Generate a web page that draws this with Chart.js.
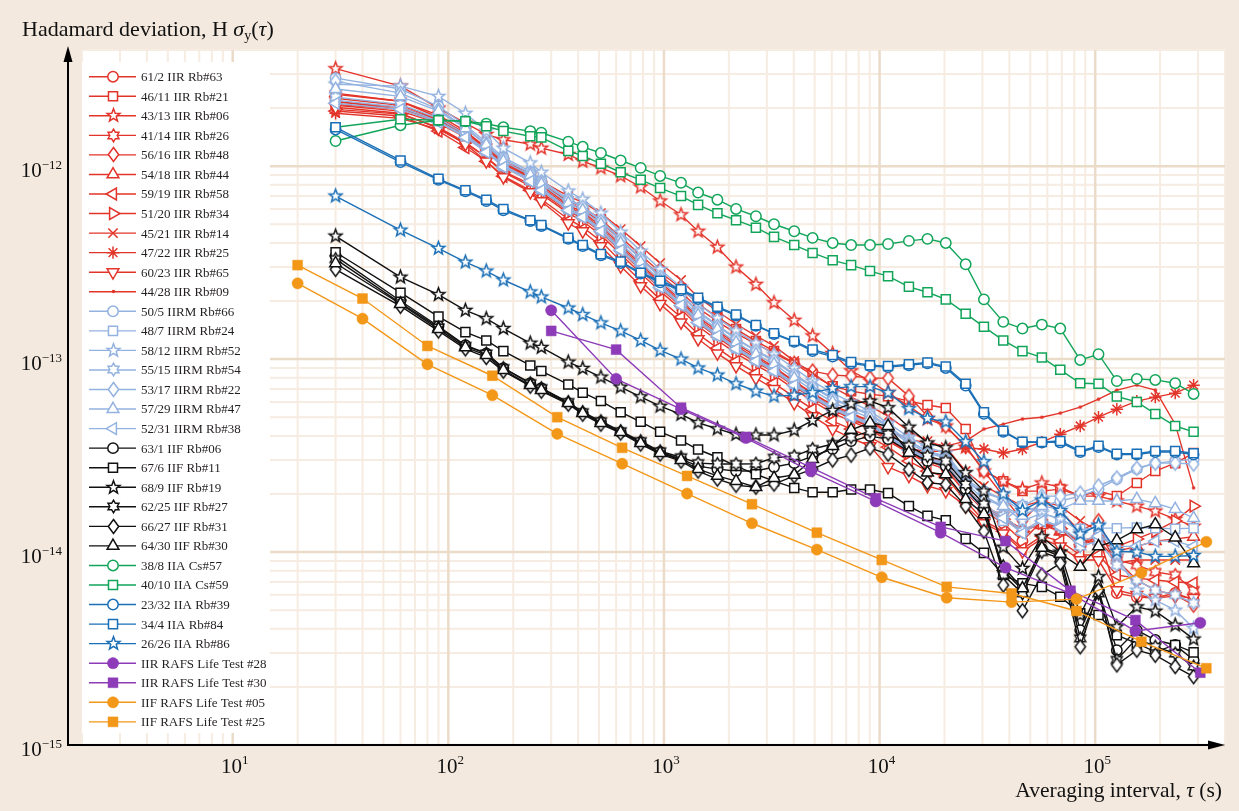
<!DOCTYPE html>
<html>
<head>
<meta charset="utf-8">
<title>Hadamard deviation of GPS clocks</title>
<script src="https://cdn.jsdelivr.net/npm/chart.js"></script>
<style>
  html, body { margin: 0; padding: 0; background: #f3e9de; }
  canvas { display: block; }
</style>
</head>
<body>
<canvas id="c" width="1239" height="811"></canvas>
<script>
// ---- averaging intervals (s) ----
const tauMain = [30, 60, 90, 120, 150, 180, 240, 270, 360, 420, 510, 630, 780, 960, 1200, 1440, 1770, 2160, 2670, 3240, 4020, 4890, 6060, 7380, 9030, 10950, 13680, 16680, 20280, 25080, 30480, 37470, 45990, 56580, 68880, 85230, 103620, 126000, 156000, 190000, 235000, 286000];
const tauRafsIIR = [300, 600, 1200, 2400, 4800, 9600, 19200, 38400, 76800, 153600, 307200];
const tauRafsIIF = [20, 40, 80, 160, 320, 640, 1280, 2560, 5120, 10240, 20480, 40960, 81920, 163840, 327680];

// ---- series labels ----
const seriesNames = [
  '61/2 IIR Rb#63', '46/11 IIR Rb#21', '43/13 IIR Rb#06', '41/14 IIR Rb#26', '56/16 IIR Rb#48', '54/18 IIR Rb#44',
  '59/19 IIR Rb#58', '51/20 IIR Rb#34', '45/21 IIR Rb#14', '47/22 IIR Rb#25', '60/23 IIR Rb#65', '44/28 IIR Rb#09',
  '50/5 IIRM Rb#66', '48/7 IIRM Rb#24', '58/12 IIRM Rb#52', '55/15 IIRM Rb#54', '53/17 IIRM Rb#22', '57/29 IIRM Rb#47', '52/31 IIRM Rb#38',
  '63/1 IIF Rb#06', '67/6 IIF Rb#11', '68/9 IIF Rb#19', '62/25 IIF Rb#27', '66/27 IIF Rb#31', '64/30 IIF Rb#30',
  '38/8 IIA Cs#57', '40/10 IIA Cs#59', '23/32 IIA Rb#39', '34/4 IIA Rb#84', '26/26 IIA Rb#86',
  'IIR RAFS Life Test #28', 'IIR RAFS Life Test #30', 'IIF RAFS Life Test #05', 'IIF RAFS Life Test #25'
];

// ---- Hadamard deviation values ----
// Block IIR
const iir_61_2 = [2.17e-12,1.97e-12,1.71e-12,1.43e-12,1.2e-12,1.0e-12,8.36e-13,7.5e-13,5.99e-13,5.44e-13,4.6e-13,3.71e-13,2.92e-13,2.36e-13,1.9e-13,1.57e-13,1.33e-13,1.14e-13,9.9e-14,8.77e-14,7.43e-14,6.35e-14,5.5e-14,4.89e-14,4.44e-14,3.85e-14,3.26e-14,2.96e-14,2.76e-14,2.07e-14,1.63e-14,1.41e-14,1.14e-14,1.45e-14,1.32e-14,1.07e-14,1.21e-14,6.13e-15,5.84e-15,5.78e-15,6.13e-15,5.64e-15];
const iir_46_11 = [2.07e-12,1.93e-12,1.67e-12,1.41e-12,1.2e-12,1.02e-12,8.8e-13,8.1e-13,6.58e-13,6.13e-13,5.31e-13,4.28e-13,3.46e-13,2.82e-13,2.33e-13,1.93e-13,1.65e-13,1.43e-13,1.24e-13,1.1e-13,9.5e-14,8.26e-14,7.24e-14,6.82e-14,6.58e-14,6.43e-14,6.06e-14,5.78e-14,5.58e-14,4.34e-14,2.63e-14,2.33e-14,2.07e-14,2.07e-14,2.12e-14,1.95e-14,2.07e-14,1.95e-14,2.28e-14,2.63e-14,2.89e-14,3.26e-14];
const iir_43_13 = [3.2e-12,2.6e-12,2.0e-12,1.67e-12,1.46e-12,1.37e-12,1.3e-12,1.24e-12,1.15e-12,1.06e-12,9.8e-13,8.9e-13,7.8e-13,6.6e-13,5.6e-13,4.6e-13,3.8e-13,3.0e-13,2.44e-13,1.96e-13,1.59e-13,1.32e-13,1.07e-13,8.7e-14,7.7e-14,6.7e-14,5.7e-14,4.9e-14,4.5e-14,3.5e-14,2.63e-14,2.33e-14,2.12e-14,2.28e-14,2.17e-14,1.95e-14,1.95e-14,1.84e-14,1.73e-14,1.63e-14,1.48e-14,1.36e-14];
const iir_41_14 = [2.36e-12,2.17e-12,1.84e-12,1.52e-12,1.25e-12,1.05e-12,8.87e-13,7.97e-13,6.28e-13,5.78e-13,4.89e-13,3.9e-13,3.1e-13,2.51e-13,2.02e-13,1.65e-13,1.4e-13,1.2e-13,1.04e-13,9.09e-14,7.69e-14,6.66e-14,5.78e-14,5.25e-14,4.77e-14,4.14e-14,3.5e-14,3.1e-14,2.89e-14,2.12e-14,1.73e-14,1.54e-14,1.28e-14,1.41e-14,1.28e-14,1.11e-14,1.14e-14,9.09e-15,8.56e-15,7.88e-15,7.6e-15,6.35e-15];
const iir_56_16 = [2.25e-12,2.07e-12,1.75e-12,1.46e-12,1.22e-12,1.04e-12,8.87e-13,8.07e-13,6.43e-13,5.99e-13,5.12e-13,4.14e-13,3.33e-13,2.72e-13,2.22e-13,1.84e-13,1.57e-13,1.36e-13,1.2e-13,1.07e-13,9.5e-14,8.67e-14,8.26e-14,8.17e-14,7.97e-14,7.97e-14,6.43e-14,5.06e-14,4.5e-14,3.54e-14,2.63e-14,1.95e-14,1.45e-14,1.84e-14,1.63e-14,1.28e-14,1.45e-14,9.09e-15,7.16e-15,6.35e-15,5.99e-15,5.31e-15];
const iir_54_18 = [2.39e-12,2.17e-12,1.79e-12,1.48e-12,1.22e-12,1.02e-12,8.67e-13,7.8e-13,6.13e-13,5.64e-13,4.77e-13,3.8e-13,3.03e-13,2.45e-13,1.97e-13,1.61e-13,1.36e-13,1.17e-13,1.01e-13,8.98e-14,7.6e-14,6.58e-14,5.64e-14,5.12e-14,4.66e-14,4.04e-14,3.42e-14,3.03e-14,2.86e-14,2.07e-14,1.71e-14,1.5e-14,1.32e-14,1.38e-14,1.28e-14,1.14e-14,1.17e-14,1.01e-14,1.07e-14,1.14e-14,1.17e-14,1.2e-14];
const iir_59_19 = [1.93e-12,1.82e-12,1.52e-12,1.25e-12,1.06e-12,8.87e-13,7.5e-13,6.74e-13,5.31e-13,4.83e-13,4.08e-13,3.22e-13,2.54e-13,2.04e-13,1.65e-13,1.35e-13,1.14e-13,9.77e-14,8.46e-14,7.5e-14,6.35e-14,5.5e-14,4.77e-14,4.34e-14,3.94e-14,3.5e-14,2.96e-14,2.63e-14,2.45e-14,1.84e-14,1.45e-14,1.28e-14,1.04e-14,1.21e-14,1.14e-14,9.65e-15,9.65e-15,7.6e-15,7.33e-15,7.16e-15,6.99e-15,6.91e-15];
const iir_51_20 = [1.97e-12,1.86e-12,1.59e-12,1.33e-12,1.11e-12,9.3e-13,7.88e-13,7.16e-13,5.71e-13,5.18e-13,4.39e-13,3.5e-13,2.79e-13,2.25e-13,1.82e-13,1.48e-13,1.25e-13,1.07e-13,9.3e-14,8.26e-14,6.99e-14,6.06e-14,5.25e-14,4.77e-14,4.34e-14,3.76e-14,3.26e-14,2.89e-14,2.69e-14,2.02e-14,1.67e-14,1.48e-14,1.28e-14,1.41e-14,1.32e-14,1.14e-14,1.21e-14,1.07e-14,1.17e-14,1.28e-14,1.45e-14,1.73e-14];
const iir_45_21 = [2.09e-12,1.97e-12,1.75e-12,1.48e-12,1.25e-12,1.06e-12,9.18e-13,8.36e-13,6.99e-13,6.5e-13,5.71e-13,4.72e-13,3.85e-13,3.14e-13,2.57e-13,2.09e-13,1.77e-13,1.52e-13,1.32e-13,1.17e-13,9.77e-14,8.46e-14,7.16e-14,6.35e-14,5.7e-14,5.06e-14,4.23e-14,3.76e-14,3.5e-14,2.63e-14,2.2e-14,1.95e-14,1.73e-14,1.84e-14,1.73e-14,1.45e-14,1.28e-14,8.77e-15,9.09e-15,9.09e-15,9.09e-15,9.09e-15];
const iir_47_22 = [1.88e-12,1.77e-12,1.55e-12,1.32e-12,1.11e-12,9.4e-13,8.07e-13,7.33e-13,5.84e-13,5.37e-13,4.55e-13,3.63e-13,2.89e-13,2.33e-13,1.88e-13,1.54e-13,1.3e-13,1.11e-13,9.65e-14,8.56e-14,7.24e-14,6.28e-14,5.44e-14,4.95e-14,4.5e-14,3.9e-14,3.42e-14,3.33e-14,3.33e-14,3.46e-14,3.42e-14,3.26e-14,3.42e-14,3.71e-14,4.08e-14,4.5e-14,5.0e-14,5.5e-14,6.06e-14,6.35e-14,6.66e-14,7.33e-14];
const iir_60_23 = [2.02e-12,1.88e-12,1.57e-12,1.3e-12,1.06e-12,8.77e-13,7.33e-13,6.58e-13,5.06e-13,4.6e-13,3.85e-13,3.03e-13,2.39e-13,1.93e-13,1.55e-13,1.27e-13,1.07e-13,9.2e-14,7.97e-14,7.0e-14,5.91e-14,5.06e-14,4.34e-14,3.9e-14,3.54e-14,2.76e-14,2.48e-14,2.2e-14,2.07e-14,1.73e-14,1.41e-14,1.25e-14,1.01e-14,1.17e-14,1.07e-14,9.09e-15,9.09e-15,6.35e-15,5.99e-15,5.78e-15,5.91e-15,5.78e-15];
const iir_44_28 = [2.15e-12,2.02e-12,1.73e-12,1.45e-12,1.21e-12,1.01e-12,8.56e-13,7.69e-13,6.06e-13,5.58e-13,4.72e-13,3.76e-13,2.99e-13,2.42e-13,1.95e-13,1.59e-13,1.35e-13,1.15e-13,1.0e-13,8.87e-14,7.5e-14,6.5e-14,5.64e-14,5.18e-14,4.77e-14,4.23e-14,3.85e-14,3.67e-14,3.54e-14,3.76e-14,4.34e-14,4.6e-14,4.89e-14,5.0e-14,5.25e-14,5.64e-14,6.2e-14,6.91e-14,7.33e-14,6.91e-14,4.6e-14,2.15e-14];
// Block IIR-M
const iirm_50_5 = [2.86e-12,2.51e-12,2.04e-12,1.63e-12,1.33e-12,1.11e-12,9.4e-13,8.46e-13,6.74e-13,6.2e-13,5.25e-13,4.18e-13,3.33e-13,2.69e-13,2.17e-13,1.77e-13,1.5e-13,1.28e-13,1.11e-13,9.9e-14,8.36e-14,7.24e-14,6.28e-14,5.7e-14,5.18e-14,4.5e-14,3.76e-14,3.33e-14,3.14e-14,2.39e-14,2.07e-14,1.88e-14,1.63e-14,1.73e-14,1.84e-14,1.95e-14,2.12e-14,2.39e-14,2.69e-14,2.89e-14,2.96e-14,3.03e-14];
const iirm_48_7 = [2.2e-12,2.02e-12,1.71e-12,1.43e-12,1.2e-12,1.0e-12,8.46e-13,7.6e-13,5.99e-13,5.5e-13,4.66e-13,3.71e-13,2.96e-13,2.39e-13,1.93e-13,1.57e-13,1.33e-13,1.14e-13,9.9e-14,8.77e-14,7.43e-14,6.43e-14,5.58e-14,5.06e-14,4.6e-14,3.99e-14,3.42e-14,3.03e-14,2.86e-14,2.07e-14,1.67e-14,1.45e-14,1.73e-14,1.59e-14,1.48e-14,1.32e-14,1.33e-14,1.33e-14,1.34e-14,1.33e-14,1.32e-14,1.33e-14];
const iirm_58_12 = [2.66e-12,2.6e-12,2.3e-12,1.88e-12,1.52e-12,1.24e-12,1.04e-12,9.3e-13,7.43e-13,6.74e-13,5.71e-13,4.55e-13,3.63e-13,2.92e-13,2.36e-13,1.93e-13,1.63e-13,1.4e-13,1.21e-13,1.06e-13,8.98e-14,7.69e-14,6.66e-14,5.99e-14,5.37e-14,4.66e-14,3.94e-14,3.5e-14,3.26e-14,2.39e-14,1.95e-14,1.73e-14,1.45e-14,1.59e-14,1.48e-14,1.28e-14,1.36e-14,9.65e-15,6.35e-15,5.64e-15,5.0e-15,4.03e-15];
const iirm_55_15 = [2.28e-12,2.09e-12,1.77e-12,1.46e-12,1.21e-12,1.01e-12,8.56e-13,7.69e-13,6.06e-13,5.58e-13,4.72e-13,3.76e-13,2.99e-13,2.42e-13,1.95e-13,1.59e-13,1.35e-13,1.15e-13,1.0e-13,8.87e-14,7.5e-14,6.5e-14,5.64e-14,5.12e-14,4.66e-14,4.04e-14,3.46e-14,3.07e-14,2.89e-14,2.12e-14,1.73e-14,1.54e-14,1.28e-14,1.48e-14,1.35e-14,1.07e-14,1.14e-14,8.56e-15,7.16e-15,6.35e-15,5.99e-15,5.44e-15];
const iirm_53_17 = [2.76e-12,2.39e-12,1.97e-12,1.59e-12,1.3e-12,1.09e-12,9.18e-13,8.26e-13,6.66e-13,6.13e-13,5.18e-13,4.14e-13,3.3e-13,2.66e-13,2.15e-13,1.75e-13,1.48e-13,1.27e-13,1.1e-13,9.77e-14,8.26e-14,7.16e-14,6.2e-14,5.64e-14,5.12e-14,4.44e-14,3.76e-14,3.33e-14,3.1e-14,2.33e-14,2.02e-14,1.88e-14,1.73e-14,1.95e-14,1.95e-14,2.02e-14,2.2e-14,2.42e-14,2.72e-14,2.89e-14,2.89e-14,2.86e-14];
const iirm_57_29 = [2.51e-12,2.3e-12,1.93e-12,1.57e-12,1.29e-12,1.06e-12,8.98e-13,8.07e-13,6.43e-13,5.91e-13,5.0e-13,3.99e-13,3.18e-13,2.57e-13,2.07e-13,1.69e-13,1.43e-13,1.22e-13,1.06e-13,9.4e-14,7.97e-14,6.91e-14,5.99e-14,5.44e-14,4.95e-14,4.34e-14,3.67e-14,3.26e-14,3.07e-14,2.28e-14,1.88e-14,1.73e-14,1.54e-14,1.73e-14,1.67e-14,1.84e-14,1.84e-14,1.84e-14,1.88e-14,1.79e-14,1.67e-14,1.5e-14];
const iirm_52_31 = [2.12e-12,1.97e-12,1.69e-12,1.41e-12,1.18e-12,9.9e-13,8.36e-13,7.5e-13,5.91e-13,5.44e-13,4.6e-13,3.67e-13,2.92e-13,2.36e-13,1.9e-13,1.55e-13,1.32e-13,1.13e-13,9.77e-14,8.67e-14,7.33e-14,6.35e-14,5.5e-14,5.0e-14,4.55e-14,3.94e-14,3.38e-14,3.0e-14,2.82e-14,2.07e-14,1.69e-14,1.5e-14,1.25e-14,1.45e-14,1.35e-14,1.14e-14,1.21e-14,1.07e-14,1.07e-14,1.14e-14,1.14e-14,1.07e-14];
// Block IIF
const iif_63_1 = [3.42e-13,2.0e-13,1.48e-13,1.18e-13,1.07e-13,8.98e-14,7.5e-14,7.07e-14,5.91e-14,5.25e-14,4.72e-14,4.18e-14,3.71e-14,3.3e-14,3.03e-14,2.79e-14,2.69e-14,2.63e-14,2.63e-14,2.76e-14,2.89e-14,3.14e-14,3.42e-14,3.76e-14,3.99e-14,3.85e-14,3.33e-14,2.96e-14,2.79e-14,2.12e-14,1.67e-14,8.07e-15,6.35e-15,1.04e-14,9.5e-15,3.94e-15,6.35e-15,3.1e-15,3.94e-15,3.5e-15,3.3e-15,2.76e-15];
const iif_67_6 = [3.58e-13,2.21e-13,1.66e-13,1.38e-13,1.25e-13,1.1e-13,9.27e-14,8.67e-14,7.39e-14,6.7e-14,6.06e-14,5.31e-14,4.73e-14,4.2e-14,3.79e-14,3.4e-14,3.1e-14,2.79e-14,2.53e-14,2.33e-14,2.15e-14,2.04e-14,2.04e-14,2.11e-14,2.11e-14,2.02e-14,1.73e-14,1.54e-14,1.46e-14,1.17e-14,9.9e-15,7.6e-15,6.88e-15,6.6e-15,5.87e-15,4.81e-15,4.72e-15,3.71e-15,3.36e-15,3.04e-15,3.3e-15,3.02e-15];
const iif_68_9 = [4.34e-13,2.66e-13,2.16e-13,1.79e-13,1.62e-13,1.44e-13,1.21e-13,1.15e-13,9.65e-14,8.95e-14,8.07e-14,7.16e-14,6.38e-14,5.7e-14,5.17e-14,4.68e-14,4.35e-14,4.07e-14,4.04e-14,4.04e-14,4.28e-14,4.81e-14,5.42e-14,5.87e-14,6.06e-14,5.6e-14,4.44e-14,3.68e-14,3.47e-14,2.58e-14,2.07e-14,1.06e-14,8.23e-15,1.2e-14,1.0e-14,4.72e-15,7.45e-15,4.1e-15,5.2e-15,4.94e-15,4.18e-15,3.54e-15];
const iif_62_25 = [3.3e-13,1.95e-13,1.46e-13,1.17e-13,1.07e-13,8.98e-14,7.5e-14,7.07e-14,5.99e-14,5.31e-14,4.77e-14,4.23e-14,3.76e-14,3.33e-14,3.1e-14,2.89e-14,2.86e-14,2.86e-14,2.87e-14,3.08e-14,3.14e-14,3.42e-14,3.63e-14,3.94e-14,4.23e-14,4.08e-14,3.54e-14,3.14e-14,2.96e-14,2.24e-14,1.77e-14,7.6e-15,6.11e-15,1.0e-14,9.27e-15,3.57e-15,6.11e-15,2.76e-15,3.57e-15,3.23e-15,2.98e-15,2.55e-15];
const iif_66_27 = [2.92e-13,1.88e-13,1.4e-13,1.13e-13,1.02e-13,8.67e-14,7.24e-14,6.82e-14,5.84e-14,5.18e-14,4.6e-14,4.14e-14,3.63e-14,3.22e-14,2.96e-14,2.63e-14,2.39e-14,2.22e-14,2.17e-14,2.25e-14,2.48e-14,2.69e-14,3.0e-14,3.18e-14,3.46e-14,3.22e-14,2.68e-14,2.29e-14,2.24e-14,1.73e-14,1.28e-14,6.74e-15,4.96e-15,7.6e-15,8.74e-15,3.23e-15,6.35e-15,2.6e-15,3.1e-15,2.92e-15,2.55e-15,2.26e-15];
const iif_64_30 = [3.14e-13,1.93e-13,1.43e-13,1.15e-13,1.05e-13,8.77e-14,7.33e-14,6.91e-14,5.91e-14,5.25e-14,4.66e-14,4.18e-14,3.67e-14,3.26e-14,3.0e-14,2.69e-14,2.48e-14,2.33e-14,2.17e-14,2.42e-14,2.51e-14,3.03e-14,3.54e-14,4.3e-14,4.68e-14,4.5e-14,3.27e-14,2.58e-14,2.53e-14,1.88e-14,1.57e-14,8.39e-15,6.48e-15,1.05e-14,9.8e-15,8.39e-15,1.07e-14,1.15e-14,1.31e-14,1.39e-14,1.19e-14,8.74e-15];
// Block IIA
const iia_38_8 = [1.35e-12,1.63e-12,1.73e-12,1.71e-12,1.66e-12,1.59e-12,1.52e-12,1.49e-12,1.34e-12,1.26e-12,1.17e-12,1.07e-12,9.8e-13,8.9e-13,8.2e-13,7.3e-13,6.7e-13,6.0e-13,5.5e-13,5.0e-13,4.6e-13,4.25e-13,4.0e-13,3.9e-13,3.9e-13,3.95e-13,4.1e-13,4.2e-13,4.0e-13,3.1e-13,2.04e-13,1.56e-13,1.44e-13,1.51e-13,1.44e-13,9.9e-14,1.06e-13,7.7e-14,7.9e-14,7.8e-14,7.5e-14,6.6e-14];
const iia_40_10 = [1.59e-12,1.75e-12,1.73e-12,1.71e-12,1.61e-12,1.52e-12,1.43e-12,1.41e-12,1.2e-12,1.13e-12,1.03e-12,9.3e-13,8.5e-13,7.7e-13,7.0e-13,6.3e-13,5.7e-13,5.25e-13,4.8e-13,4.3e-13,3.9e-13,3.55e-13,3.25e-13,3.07e-13,2.86e-13,2.69e-13,2.37e-13,2.22e-13,2.04e-13,1.72e-13,1.47e-13,1.25e-13,1.1e-13,1.02e-13,8.8e-14,7.5e-14,7.45e-14,6.4e-14,6.0e-14,5.2e-14,4.5e-14,4.2e-14];
const iia_23_32 = [1.55e-12,1.05e-12,8.5e-13,7.4e-13,6.6e-13,5.9e-13,5.2e-13,4.9e-13,4.2e-13,3.85e-13,3.45e-13,3.15e-13,2.78e-13,2.5e-13,2.27e-13,2.05e-13,1.85e-13,1.68e-13,1.49e-13,1.35e-13,1.23e-13,1.1e-13,1.03e-13,9.5e-14,9.2e-14,9.1e-14,9.3e-14,9.5e-14,9.0e-14,7.3e-14,5.2e-14,4.2e-14,3.7e-14,3.7e-14,3.7e-14,3.3e-14,3.5e-14,3.2e-14,3.2e-14,3.3e-14,3.3e-14,3.2e-14];
const iia_34_4 = [1.59e-12,1.07e-12,8.6e-13,7.5e-13,6.7e-13,6.0e-13,5.25e-13,4.95e-13,4.25e-13,3.9e-13,3.5e-13,3.2e-13,2.8e-13,2.55e-13,2.3e-13,2.08e-13,1.87e-13,1.7e-13,1.5e-13,1.36e-13,1.24e-13,1.12e-13,1.05e-13,9.65e-14,9.3e-14,9.2e-14,9.4e-14,9.6e-14,9.15e-14,7.45e-14,5.3e-14,4.25e-14,3.73e-14,3.72e-14,3.76e-14,3.34e-14,3.55e-14,3.23e-14,3.23e-14,3.34e-14,3.34e-14,3.25e-14];
const iia_26_26 = [7.0e-13,4.66e-13,3.75e-13,3.18e-13,2.86e-13,2.57e-13,2.23e-13,2.1e-13,1.84e-13,1.7e-13,1.54e-13,1.4e-13,1.25e-13,1.11e-13,1.0e-13,9.0e-14,8.27e-14,7.45e-14,6.82e-14,6.43e-14,6.5e-14,6.7e-14,7.05e-14,7.2e-14,7.2e-14,6.7e-14,5.53e-14,4.93e-14,4.73e-14,3.73e-14,2.94e-14,2.0e-14,1.64e-14,1.86e-14,1.64e-14,1.24e-14,1.38e-14,1.01e-14,1.0e-14,9.5e-15,9.5e-15,9.6e-15];
// RAFS life tests
const rafsIIR_28 = [1.79e-13,7.9e-14,5.5e-14,3.9e-14,2.62e-14,1.83e-14,1.26e-14,8.3e-15,6.1e-15,3.9e-15,4.3e-15];
const rafsIIR_30 = [1.4e-13,1.12e-13,5.6e-14,3.95e-14,2.75e-14,1.9e-14,1.35e-14,1.14e-14,6.3e-15,4.44e-15,2.37e-15];
const rafsIIF_05 = [2.47e-13,1.62e-13,9.4e-14,6.5e-14,4.1e-14,2.87e-14,2.01e-14,1.41e-14,1.03e-14,7.4e-15,5.8e-15,5.5e-15,5.7e-15,7.8e-15,1.13e-14];
const rafsIIF_25 = [3.07e-13,2.06e-13,1.17e-13,8.2e-14,5.0e-14,3.47e-14,2.48e-14,1.77e-14,1.26e-14,9.1e-15,6.6e-15,6.1e-15,4.95e-15,3.43e-15,2.5e-15];

const seriesValues = [
  iir_61_2, iir_46_11, iir_43_13, iir_41_14, iir_56_16, iir_54_18, iir_59_19, iir_51_20, iir_45_21, iir_47_22, iir_60_23, iir_44_28,
  iirm_50_5, iirm_48_7, iirm_58_12, iirm_55_15, iirm_53_17, iirm_57_29, iirm_52_31,
  iif_63_1, iif_67_6, iif_68_9, iif_62_25, iif_66_27, iif_64_30,
  iia_38_8, iia_40_10, iia_23_32, iia_34_4, iia_26_26,
  rafsIIR_28, rafsIIR_30, rafsIIF_05, rafsIIF_25
];
const seriesTau = seriesValues.map((v, i) => i === 30 || i === 31 ? tauRafsIIR : (i >= 32 ? tauRafsIIF : tauMain));

// ---- styling ----
const RED = '#e3342a', LBLUE = '#93b2e0', BLACK = '#111111', GREEN = '#12a55a', BLUE = '#1a6fb6', PURPLE = '#8d3bb8', ORANGE = '#f39719';
const seriesStyle = [
  [RED, 'circle'], [RED, 'square'], [RED, 'star5'], [RED, 'star6'], [RED, 'diamond'], [RED, 'triUp'],
  [RED, 'triLeft'], [RED, 'triRight'], [RED, 'cross'], [RED, 'asterisk'], [RED, 'triDown'], [RED, 'dot'],
  [LBLUE, 'circle'], [LBLUE, 'square'], [LBLUE, 'star5'], [LBLUE, 'star6'], [LBLUE, 'diamond'], [LBLUE, 'triUp'], [LBLUE, 'triLeft'],
  [BLACK, 'circle'], [BLACK, 'square'], [BLACK, 'star5'], [BLACK, 'star6'], [BLACK, 'diamond'], [BLACK, 'triUp'],
  [GREEN, 'circle'], [GREEN, 'square'], [BLUE, 'circle'], [BLUE, 'square'], [BLUE, 'star5'],
  [PURPLE, 'fcircle'], [PURPLE, 'fsquare'], [ORANGE, 'fcircle'], [ORANGE, 'fsquare']
];

// Glyphs that Chart.js has no built-in style for are rendered into small canvases
function glyphCanvas(shape, color) {
  const S = 19, m = S / 2;
  const c = document.createElement('canvas');
  c.width = S; c.height = S;
  const g = c.getContext('2d');
  g.lineWidth = 1.5; g.strokeStyle = color; g.fillStyle = '#ffffff';
  const poly = pts => { g.beginPath(); pts.forEach((p, k) => k ? g.lineTo(m + p[0], m + p[1]) : g.moveTo(m + p[0], m + p[1])); g.closePath(); g.fill(); g.stroke(); };
  const starPts = (n, ro, ri) => { const p = []; for (let k = 0; k < 2 * n; k++) { const a = -Math.PI / 2 + k * Math.PI / n; const r = k % 2 ? ri : ro; p.push([r * Math.cos(a), r * Math.sin(a)]); } return p; };
  if (shape === 'star5') poly(starPts(5, 6.8, 2.9));
  else if (shape === 'star6') poly(starPts(6, 6.3, 3.7));
  else if (shape === 'diamond') poly([[0, -7], [5.2, 0], [0, 7], [-5.2, 0]]);
  else if (shape === 'dot') { g.fillStyle = color; g.beginPath(); g.arc(m, m, 1.8, 0, 2 * Math.PI); g.fill(); }
  return c;
}

// Point options for one marker kind
function markerOptions(shape, color) {
  const o = { pointBorderColor: color, pointBackgroundColor: '#ffffff', pointBorderWidth: 1.5, pointRotation: 0, pointRadius: 5.2 };
  switch (shape) {
    case 'circle': o.pointStyle = 'circle'; o.pointRadius = 5.2; break;
    case 'square': o.pointStyle = 'rect'; o.pointRadius = 6.4; break;
    case 'triUp': o.pointStyle = 'triangle'; o.pointRadius = 6.8; break;
    case 'triDown': o.pointStyle = 'triangle'; o.pointRadius = 6.8; o.pointRotation = 180; break;
    case 'triLeft': o.pointStyle = 'triangle'; o.pointRadius = 6.8; o.pointRotation = 270; break;
    case 'triRight': o.pointStyle = 'triangle'; o.pointRadius = 6.8; o.pointRotation = 90; break;
    case 'cross': o.pointStyle = 'crossRot'; o.pointRadius = 6.6; break;
    case 'asterisk': o.pointStyle = 'star'; o.pointRadius = 6.2; break;
    case 'fcircle': o.pointStyle = 'circle'; o.pointRadius = 5.6; o.pointBackgroundColor = color; o.pointBorderWidth = 0.5; break;
    case 'fsquare': o.pointStyle = 'rect'; o.pointRadius = 7; o.pointBackgroundColor = color; o.pointBorderWidth = 0.5; break;
    default: o.pointStyle = glyphCanvas(shape, color); o.pointRadius = 6;
  }
  return o;
}

const N = seriesNames.length;
const datasets = seriesValues.map((vals, i) => Object.assign({
  label: seriesNames[i],
  data: seriesTau[i].map((t, k) => ({ x: t, y: vals[k] })),
  borderColor: seriesStyle[i][0],
  backgroundColor: seriesStyle[i][0],
  borderWidth: 1.4,
  fill: false,
  tension: 0,
  order: N - i
}, markerOptions(seriesStyle[i][1], seriesStyle[i][0])));

const FONT = '"Liberation Serif", "Times New Roman", serif';
const BG = '#f3e9de';

function drawRuns(ctx, runs, x, baseline, align) {
  let total = 0;
  runs.forEach(r => { ctx.font = r.f; r.w = ctx.measureText(r.t).width; total += r.w; });
  let cx = align === 'right' ? x - total : (align === 'center' ? x - total / 2 : x);
  ctx.textAlign = 'left'; ctx.textBaseline = 'alphabetic';
  runs.forEach(r => { ctx.font = r.f; ctx.fillText(r.t, cx, baseline + (r.dy || 0)); cx += r.w; });
  return total;
}

// Legend marker: same point options as the plotted series
function legendMarker(ctx, ds, x, y) {
  const st = ds.pointStyle;
  if (typeof st === 'object') { ctx.drawImage(st, Math.round(x - st.width / 2), Math.round(y - st.height / 2)); return; }
  const H = Chart.helpers;
  ctx.save();
  ctx.fillStyle = ds.pointBackgroundColor; ctx.strokeStyle = ds.pointBorderColor; ctx.lineWidth = ds.pointBorderWidth;
  if (H && H.drawPoint) {
    H.drawPoint(ctx, { pointStyle: st, rotation: ds.pointRotation, radius: ds.pointRadius, borderWidth: ds.pointBorderWidth }, x, y);
  } else {
    ctx.beginPath(); ctx.arc(x, y, 5, 0, 2 * Math.PI); ctx.fill(); ctx.stroke();
  }
  ctx.restore();
}

const framePlugin = {
  id: 'frame',
  beforeDraw(chart) {
    const { ctx, chartArea: a, scales: { x, y } } = chart;
    ctx.save();
    ctx.fillStyle = BG; ctx.fillRect(0, 0, chart.width, chart.height);
    ctx.fillStyle = '#ffffff'; ctx.fillRect(a.left, a.top, a.right - a.left, a.bottom - a.top);
    const minor = [], major = [];
    for (let e = 0; e <= 5; e++) for (let k = 1; k <= 9; k++) {
      const v = k * Math.pow(10, e);
      if (v < x.min || v > x.max) continue;
      (k === 1 ? major : minor).push(['v', x.getPixelForValue(v)]);
    }
    for (let e = -15; e <= -12; e++) for (let k = 1; k <= 9; k++) {
      const v = k * Math.pow(10, e);
      if (v < y.min * 0.999 || v > y.max * 1.001) continue;
      (k === 1 ? major : minor).push(['h', y.getPixelForValue(v)]);
    }
    const stroke = (list, color, w) => {
      ctx.strokeStyle = color; ctx.lineWidth = w; ctx.beginPath();
      list.forEach(([d, p]) => {
        if (d === 'v') { ctx.moveTo(p, a.top); ctx.lineTo(p, a.bottom); }
        else { ctx.moveTo(a.left, p); ctx.lineTo(a.right, p); }
      });
      ctx.stroke();
    };
    stroke(minor, '#f6ece1', 2);
    stroke(major, '#ebdbc9', 2.5);
    ctx.restore();
  },
  afterDraw(chart) {
    const { ctx, chartArea: a, scales: { x, y } } = chart;
    ctx.save();
    // axes with arrow heads
    const ax = 68;
    ctx.strokeStyle = '#000'; ctx.fillStyle = '#000'; ctx.lineWidth = 2;
    ctx.beginPath(); ctx.moveTo(ax, a.bottom); ctx.lineTo(ax, 60); ctx.stroke();
    ctx.beginPath(); ctx.moveTo(ax - 1, a.bottom); ctx.lineTo(1210, a.bottom); ctx.stroke();
    ctx.beginPath(); ctx.moveTo(ax, 46); ctx.lineTo(ax - 4.5, 62); ctx.lineTo(ax + 4.5, 62); ctx.closePath(); ctx.fill();
    ctx.beginPath(); ctx.moveTo(1225, a.bottom); ctx.lineTo(1208, a.bottom - 4.5); ctx.lineTo(1208, a.bottom + 4.5); ctx.closePath(); ctx.fill();

    // tick labels
    ctx.fillStyle = '#111';
    const big = '21px ' + FONT, sup = '13px ' + FONT;
    [-12, -13, -14, -15].forEach(e => {
      const py = y.getPixelForValue(Math.pow(10, e));
      drawRuns(ctx, [{ t: '10', f: big, dy: 11 }, { t: '\u2212' + (-e), f: sup, dy: 3 }], 62, py, 'right');
    });
    [1, 2, 3, 4, 5].forEach(e => {
      const px = x.getPixelForValue(Math.pow(10, e));
      drawRuns(ctx, [{ t: '10', f: big, dy: 0 }, { t: String(e), f: sup, dy: -9 }], px + 2, 773, 'center');
    });

    // axis titles
    const tf = '22px ' + FONT, ti = 'italic 22px ' + FONT, ts = '14px ' + FONT;
    drawRuns(ctx, [
      { t: 'Hadamard deviation, H ', f: tf }, { t: '\u03c3', f: ti }, { t: 'y', f: ts, dy: 4 },
      { t: '(', f: tf }, { t: '\u03c4', f: ti }, { t: ')', f: tf }
    ], 22, 36, 'left');
    const xf = '21.5px ' + FONT, xi = 'italic 21.5px ' + FONT;
    drawRuns(ctx, [
      { t: 'Averaging interval, ', f: xf }, { t: '\u03c4', f: xi }, { t: ' (s)', f: xf }
    ], 1222, 797, 'right');

    // legend panel
    ctx.fillStyle = '#ffffff';
    ctx.fillRect(a.left, 62, 270 - a.left, 671);
    const rowH = 19.55, y0 = 76.7;
    chart.data.datasets.forEach((ds, i) => {
      const ry = y0 + i * rowH;
      ctx.strokeStyle = ds.borderColor; ctx.lineWidth = 1.4;
      ctx.beginPath(); ctx.moveTo(89, ry); ctx.lineTo(136, ry); ctx.stroke();
      legendMarker(ctx, ds, 113, ry);
      ctx.fillStyle = '#231f20'; ctx.font = '13px ' + FONT;
      ctx.textAlign = 'left'; ctx.textBaseline = 'middle';
      ctx.fillText(ds.label, 141, ry + 1);
    });
    ctx.restore();
  }
};

new Chart(document.getElementById('c').getContext('2d'), {
  type: 'line',
  data: { datasets },
  options: {
    responsive: false,
    animation: false,
    devicePixelRatio: 1,
    events: [],
    layout: { padding: { left: 82, top: 50, right: 1239 - 1225, bottom: 811 - 745 } },
    scales: {
      x: { type: 'logarithmic', min: 2, max: 4e5, display: false },
      y: { type: 'logarithmic', min: 1e-15, max: 4e-12, display: false }
    },
    plugins: { legend: { display: false }, tooltip: { enabled: false } }
  },
  plugins: [framePlugin]
});
</script>
</body>
</html>
